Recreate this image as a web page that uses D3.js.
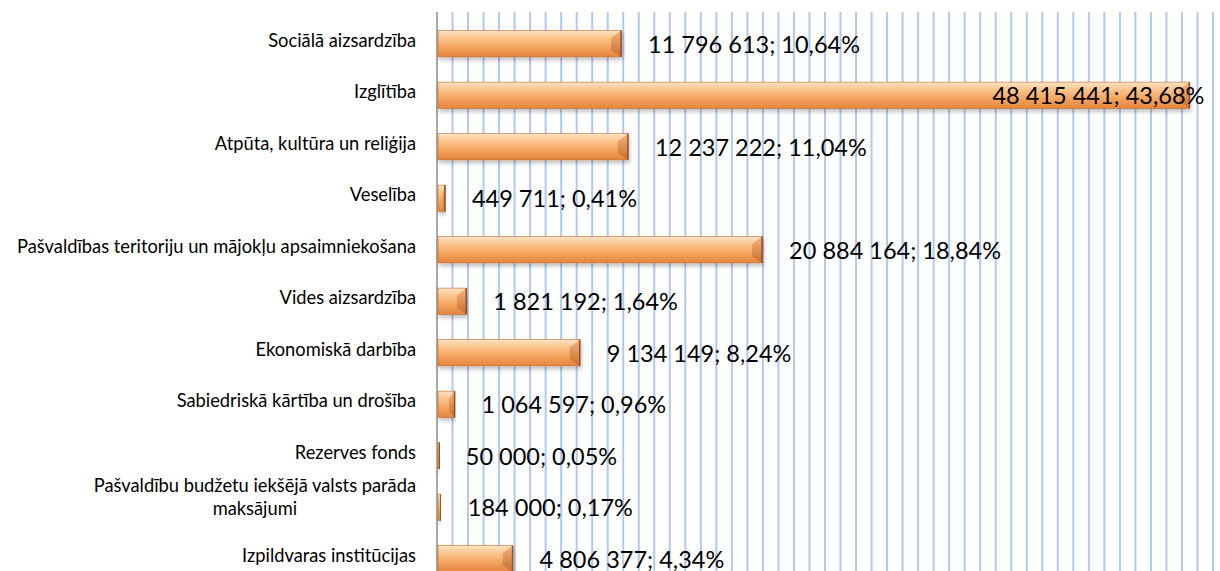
<!DOCTYPE html>
<html>
<head>
<meta charset="utf-8">
<script src="https://cdn.jsdelivr.net/npm/d3@7"></script>
<style>
  body { margin: 0; background: #fff; }
  text { font-family: Lato, 'Open Sans', sans-serif; }
</style>
</head>
<body>
<svg id="chart" width="1220" height="571"></svg>
<script>
// Categories, top to bottom as they appear in the chart
const categories = [
  'Sociālā aizsardzība',
  'Izglītība',
  'Atpūta, kultūra un reliģija',
  'Veselība',
  'Pašvaldības teritoriju un mājokļu apsaimniekošana',
  'Vides aizsardzība',
  'Ekonomiskā darbība',
  'Sabiedriskā kārtība un drošība',
  'Rezerves fonds',
  'Pašvaldību budžetu iekšējā valsts parāda maksājumi',
  'Izpildvaras institūcijas'
]

// Amounts (EUR) and shares
const values = [11796613, 48415441, 12237222, 449711, 20884164, 1821192, 9134149, 1064597, 50000, 184000, 4806377]
const shares = ['10,64%', '43,68%', '11,04%', '0,41%', '18,84%', '1,64%', '8,24%', '0,96%', '0,05%', '0,17%', '4,34%']

const xTicks = d3.range(0, 50000001, 1000000)

const svg = d3.select('#chart')
const W = 1220
const plotLeft = 437
const plotRight = 1213
const plotTop = 12

const x = d3.scaleLinear().domain([0, 50000000]).range([plotLeft, plotRight])
const y = d3.scaleBand().domain(categories).range([18, 584.5]).paddingInner(0.49).paddingOuter(0.245)

// Formatting numbers with a space as thousands separator
const fmt = v => d3.format(',')(v).replace(/,/g, ' ')

// Gradients and shadow
const defs = svg.append('defs')
const grad = defs.append('linearGradient').attr('id', 'barGrad')
  .attr('x1', 0).attr('y1', 0).attr('x2', 0).attr('y2', 1)
grad.append('stop').attr('offset', '0%').attr('stop-color', '#fde3c6')
grad.append('stop').attr('offset', '22%').attr('stop-color', '#fbcb98')
grad.append('stop').attr('offset', '60%').attr('stop-color', '#f5a762')
grad.append('stop').attr('offset', '100%').attr('stop-color', '#e4843d')

const endGrad = defs.append('linearGradient').attr('id', 'endGrad')
  .attr('x1', 0).attr('y1', 0).attr('x2', 0).attr('y2', 1)
endGrad.append('stop').attr('offset', '0%').attr('stop-color', '#f6b47a')
endGrad.append('stop').attr('offset', '100%').attr('stop-color', '#c96d2e')

const shadow = defs.append('filter').attr('id', 'shadow')
  .attr('x', '-5%').attr('y', '-20%').attr('width', '110%').attr('height', '160%')
shadow.append('feDropShadow').attr('dx', 1).attr('dy', 3).attr('stdDeviation', 2)
  .attr('flood-color', '#000').attr('flood-opacity', 0.25)

// Vertical gridlines
svg.append('g')
  .selectAll('line')
  .data(xTicks.slice(1))
  .join('line')
  .attr('x1', d => x(d)).attr('x2', d => x(d))
  .attr('y1', plotTop).attr('y2', 571)
  .attr('stroke', '#b3c8ec')
  .attr('stroke-width', 2)

// Category axis line
svg.append('line')
  .attr('x1', plotLeft).attr('x2', plotLeft)
  .attr('y1', plotTop).attr('y2', 571)
  .attr('stroke', '#8c8c8c')
  .attr('stroke-width', 1.5)

// Bars
const bars = svg.append('g')
  .selectAll('g')
  .data(categories)
  .join('g')
  .attr('filter', 'url(#shadow)')

bars.each(function (c, i) {
  const g = d3.select(this)
  const x0 = x(0) + 1
  const w = Math.max(1.5, x(values[i]) - x(0))
  const y0 = y(c)
  const h = y.bandwidth()
  const bev = Math.min(10, w / 3)

  g.append('rect')
    .attr('x', x0).attr('y', y0)
    .attr('width', w).attr('height', h)
    .attr('fill', 'url(#barGrad)')

  // right end bevel
  g.append('path')
    .attr('d', `M${x0 + w - bev},${y0 + h * 0.3} L${x0 + w},${y0} L${x0 + w},${y0 + h} L${x0 + w - bev},${y0 + h * 0.75} Z`)
    .attr('fill', 'url(#endGrad)')

  g.append('rect')
    .attr('x', x0).attr('y', y0)
    .attr('width', w).attr('height', h)
    .attr('fill', 'none')
    .attr('stroke', '#c06a2c')
    .attr('stroke-width', 0.6)

  // darker end edge
  g.append('line')
    .attr('x1', x0 + w).attr('x2', x0 + w)
    .attr('y1', y0).attr('y2', y0 + h)
    .attr('stroke', '#9a4f1e')
    .attr('stroke-width', 1.5)
})

// Data labels
svg.append('g')
  .selectAll('text')
  .data(categories)
  .join('text')
  .attr('font-size', 23.5)
  .attr('fill', '#000')
  .attr('dominant-baseline', 'central')
  .attr('y', d => y(d) + y.bandwidth() / 2)
  .text((d, i) => `${fmt(values[i])}; ${shares[i]}`)
  .each(function (d, i) {
    const t = d3.select(this)
    const end = x(values[i])
    const len = this.getComputedTextLength()
    if (end + 28 + len > W) {
      t.attr('x', end + 16).attr('text-anchor', 'end')
    } else {
      t.attr('x', end + 28)
    }
  })

// Category labels (wrapping long ones onto two centred lines)
const maxLabel = 405
const labels = svg.append('g')
  .selectAll('text')
  .data(categories)
  .join('text')
  .attr('font-size', 18.3)
  .attr('fill', '#000')
  .attr('text-anchor', 'end')
  .attr('x', 416)
  .attr('y', d => y(d) + y.bandwidth() / 2 - 4)
  .attr('dominant-baseline', 'central')
  .text(d => d)

labels.each(function (d) {
  if (this.getComputedTextLength() <= maxLabel) return
  const t = d3.select(this)
  const words = d.split(' ')
  const line2 = words.pop()
  const line1 = words.join(' ')
  const cy = +t.attr('y')
  t.text(null)
  const a = t.append('tspan').attr('x', 416).attr('y', cy - 18).text(line1)
  const len = a.node().getComputedTextLength()
  t.append('tspan').attr('x', 416 - len / 2).attr('y', cy + 5)
    .attr('text-anchor', 'middle').text(line2)
})
</script>
</body>
</html>
